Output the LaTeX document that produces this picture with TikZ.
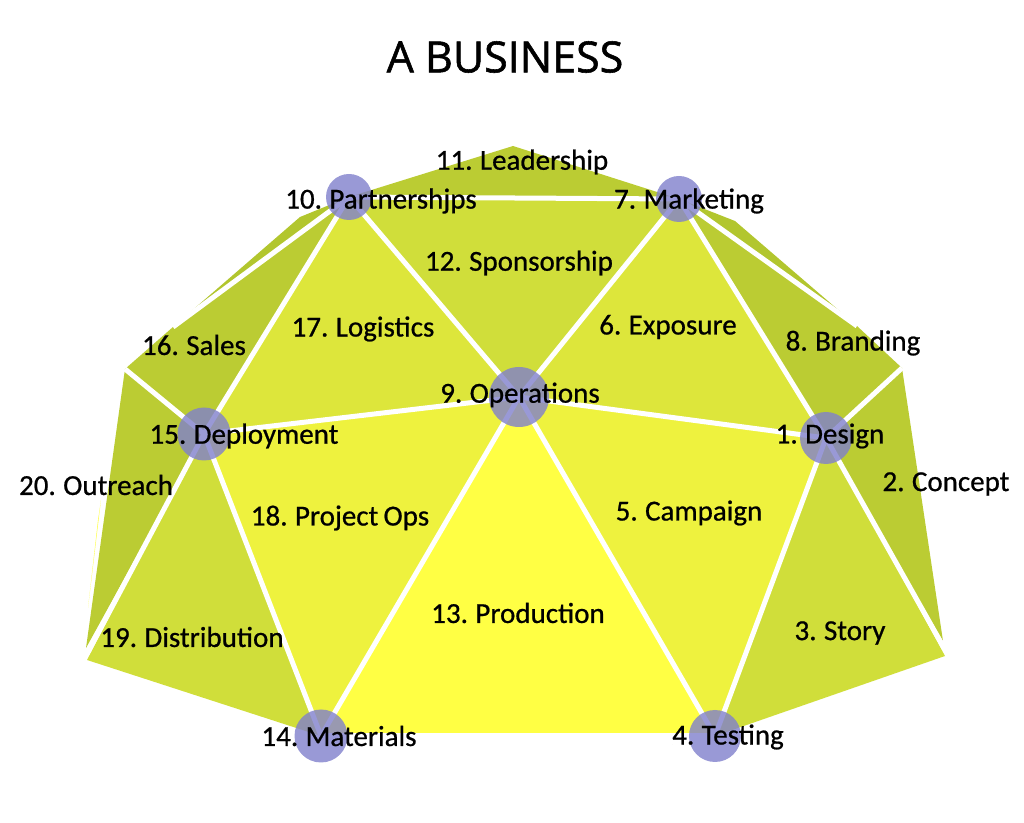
\documentclass[tikz,border=0pt]{standalone}
\usepackage{fontspec}
\setmainfont{Carlito}[FakeBold=0.7,WordSpace=0.8]
\newfontfamily\titlefont{Open Sans}[FakeBold=1.3]
\definecolor{rimgreen}{HTML}{BBCC33}
\definecolor{slivgreen}{HTML}{B2C62E}
\definecolor{midgreen}{HTML}{D0DE3A}
\definecolor{lightgreen}{HTML}{DDE63B}
\definecolor{paleyellow}{HTML}{EEF23E}
\definecolor{coreyellow}{HTML}{FFFF44}
\definecolor{hubblue}{HTML}{8080CC}
\begin{document}
\begin{tikzpicture}[x=0.5pt,y=-0.5pt,
  edge/.style={white,line width=2.5pt},
  hub/.style={circle,fill=hubblue,fill opacity=0.8,inner sep=0pt,minimum size=#1},
  lbl/.style={font=\fontsize{14.5}{16}\selectfont,inner sep=0pt,yshift=-1pt}]
  \useasboundingbox (0,0) rectangle (1024,823);
  % dome vertices
  \coordinate (O) at (519,397);
  \coordinate (P) at (349,197);
  \coordinate (M) at (679,199);
  \coordinate (D) at (826,438);
  \coordinate (Dp) at (204,434);
  \coordinate (Ma) at (321,736);
  \coordinate (T) at (715,736);
  \coordinate (top) at (513,146);
  % outer rim
  \coordinate (l1) at (300,217);
  \coordinate (l2) at (173,327);
  \coordinate (l3) at (125,369);
  \coordinate (l4) at (86,648);
  \coordinate (l5) at (87,660);
  \coordinate (l45) at (87,654);
  \coordinate (r1) at (735,221);
  \coordinate (r2) at (857,326);
  \coordinate (r3) at (902,368);
  \coordinate (r4) at (943,641);
  \coordinate (r5) at (945,656);
  \coordinate (r45) at (944,648);
  \coordinate (mb) at (321,733);
  \coordinate (tb) at (715,733);

  % facets
  \fill[rimgreen] (P) -- (top) -- (M) -- cycle;
  \fill[slivgreen] (P) -- (l1) -- (l2) -- cycle;
  \fill[rimgreen] (P) -- (l2) -- (l3) -- (Dp) -- cycle;
  \fill[rimgreen] (l3) -- (Dp) -- (l4) -- cycle;
  \fill[midgreen] (Dp) -- (l5) -- (Ma) -- cycle;
  \fill[paleyellow] (Dp) -- (O) -- (Ma) -- cycle;
  \fill[lightgreen] (P) -- (O) -- (Dp) -- cycle;
  \fill[midgreen] (P) -- (M) -- (O) -- cycle;
  \fill[lightgreen] (M) -- (D) -- (O) -- cycle;
  \fill[slivgreen] (M) -- (r1) -- (r2) -- cycle;
  \fill[rimgreen] (M) -- (r2) -- (r3) -- (D) -- cycle;
  \fill[rimgreen] (r3) -- (r4) -- (D) -- cycle;
  \fill[midgreen] (D) -- (r5) -- (T) -- cycle;
  \fill[paleyellow] (O) -- (D) -- (T) -- cycle;
  \fill[coreyellow] (O) -- (tb) -- (mb) -- cycle;
  \fill[coreyellow] (101,500) -- (88,608) -- (98,520) -- cycle;

  % struts
  \foreach \a/\b in {P/M,P/O,M/O,P/Dp,O/Dp,O/D,M/D,O/Ma,O/T,Dp/Ma,D/T,
                     P/l2,M/r2,Dp/l3,Dp/l45,D/r3,D/r45}
    \draw[edge] (\a) -- (\b);

  % hubs
  \node[hub=30pt] (hO) at (O) {};
  \node[hub=23pt] (hP) at (P) {};
  \node[hub=23pt] (hM) at (M) {};
  \node[hub=26pt] (hD) at (D) {};
  \node[hub=26.5pt] (hDp) at (Dp) {};
  \node[hub=26.5pt] (hMa) at (Ma) {};
  \node[hub=26pt] (hT) at (T) {};

  % labels
  \node[font=\titlefont\fontsize{21.5}{23}\selectfont] (title) at (505,57) {A BUSINESS};
  \node[lbl] (t1) at (830,434) {1. Design};
  \node[lbl] (t2) at (946,482) {2. Concept};
  \node[lbl] (t3) at (840,631) {3. Story};
  \node[lbl] (t4) at (728,735) {4. Testing};
  \node[lbl] (t5) at (689,511) {5. Campaign};
  \node[lbl] (t6) at (668,325) {6. Exposure};
  \node[lbl] (t7) at (689,199) {7. Marketing};
  \node[lbl] (t8) at (853,341) {8. Branding};
  \node[lbl] (t9) at (520,393) {9. Operations};
  \node[lbl] (t10) at (381,199) {10. Partnershjps};
  \node[lbl] (t11) at (522,160) {11. Leadership};
  \node[lbl] (t12) at (519,261) {12. Sponsorship};
  \node[lbl] (t13) at (518,611) {13. Production};
  \node[lbl] (t14) at (339,734) {14. Materials};
  \node[lbl] (t15) at (244,434) {15. Deployment};
  \node[lbl] (t16) at (194,343) {16. Sales};
  \node[lbl] (t17) at (363,327) {17. Logistics};
  \node[lbl] (t18) at (340,516) {18. Project Ops};
  \node[lbl] (t19) at (192,635) {19. Distribution};
  \node[lbl] (t20) at (96,483) {20. Outreach};
\end{tikzpicture}
\end{document}
